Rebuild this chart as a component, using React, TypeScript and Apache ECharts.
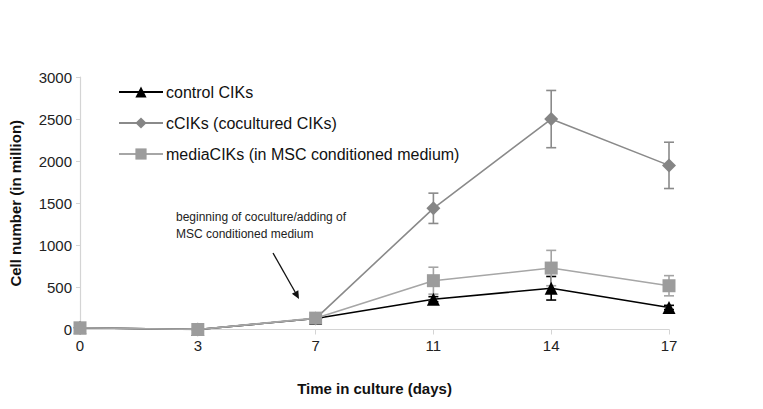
import React, { useEffect, useRef } from 'react';
import * as echarts from 'echarts';

const days = ['0', '3', '7', '11', '14', '17'];
const controlValues = [20, 0, 130, 360, 490, 262];
const controlErrors = [0, 0, 0, 30, 140, 25];
const cocultureValues = [20, 0, 130, 1440, 2500, 1950];
const cocultureErrors = [0, 0, 0, 180, 340, 275];
const mediaValues = [20, 0, 135, 580, 730, 520];
const mediaErrors = [0, 0, 0, 160, 210, 120];
const seriesNames = ['control CIKs', 'cCIKs (cocultured CIKs)', 'mediaCIKs (in MSC conditioned medium)'];
const annotationLines = ['beginning of coculture/adding of', 'MSC conditioned medium'];

const FONT = '"Liberation Sans", Arial, sans-serif';

function errorSeries(values: number[], errors: number[], color: string, z: number) {
  return {
    type: 'custom',
    silent: true,
    z,
    encode: { x: 0, y: [1, 2] },
    data: values
      .map((v, i) => [i, v - errors[i], v + errors[i], errors[i]])
      .filter((d) => d[3] > 0),
    renderItem: (params: any, api: any) => {
      const lo = api.coord([api.value(0), api.value(1)]);
      const hi = api.coord([api.value(0), api.value(2)]);
      const w = 5;
      const style = { stroke: color, lineWidth: 1.6 };
      return {
        type: 'group',
        children: [
          { type: 'line', shape: { x1: lo[0], y1: lo[1], x2: hi[0], y2: hi[1] }, style },
          { type: 'line', shape: { x1: lo[0] - w, y1: lo[1], x2: lo[0] + w, y2: lo[1] }, style },
          { type: 'line', shape: { x1: hi[0] - w, y1: hi[1], x2: hi[0] + w, y2: hi[1] }, style },
        ],
      };
    },
  };
}

export default function App() {
  const ref = useRef<HTMLDivElement>(null);
  useEffect(() => {
    if (!ref.current) return;
    const chart = echarts.init(ref.current, null, { renderer: 'svg' });
    const tip = [299, 299];
    const base = [295.1, 292.0];
    const p = [-3.2, 1.8];
    chart.setOption({
      animation: false,
      backgroundColor: '#ffffff',
      grid: { left: 80, right: 94, top: 77, bottom: 79.5 },
      legend: {
        data: seriesNames,
        orient: 'vertical',
        left: 113,
        top: 79,
        itemWidth: 44,
        itemHeight: 14,
        itemGap: 15,
        textStyle: { fontSize: 16, color: '#111', fontFamily: FONT, padding: [0, 0, 0, -2] },
      },
      xAxis: {
        type: 'category',
        data: days,
        boundaryGap: false,
        name: 'Time in culture (days)',
        nameLocation: 'middle',
        nameGap: 51,
        nameTextStyle: { fontSize: 15, fontWeight: 'bold', color: '#111', fontFamily: FONT },
        axisLine: { lineStyle: { color: '#d4d4d4', width: 1.2 } },
        axisTick: { show: true, alignWithLabel: true, length: 5, lineStyle: { color: '#d4d4d4' } },
        axisLabel: { fontSize: 15, color: '#222', fontFamily: FONT, margin: 8 },
        splitLine: { show: false },
      },
      yAxis: {
        type: 'value',
        min: 0,
        max: 3000,
        interval: 500,
        name: 'Cell number (in million)',
        nameLocation: 'middle',
        nameGap: 57,
        nameTextStyle: { fontSize: 15, fontWeight: 'bold', color: '#111', fontFamily: FONT },
        axisLine: { show: true, lineStyle: { color: '#d4d4d4', width: 1.2 } },
        axisTick: { show: true, length: 4, lineStyle: { color: '#d4d4d4' } },
        axisLabel: { fontSize: 15, color: '#222', fontFamily: FONT, margin: 8, formatter: (v: number) => String(v) },
        splitLine: { show: false },
      },
      series: [
        errorSeries(controlValues, controlErrors, '#000000', 1),
        errorSeries(cocultureValues, cocultureErrors, '#8a8a8a', 1),
        errorSeries(mediaValues, mediaErrors, '#a4a4a4', 1),
        {
          name: seriesNames[0],
          type: 'line',
          data: controlValues,
          symbol: 'triangle',
          symbolSize: 13,
          lineStyle: { color: '#000000', width: 1.6 },
          itemStyle: { color: '#000000' },
          z: 3,
        },
        {
          name: seriesNames[1],
          type: 'line',
          data: cocultureValues,
          symbol: 'diamond',
          symbolSize: 14,
          lineStyle: { color: '#8a8a8a', width: 1.6 },
          itemStyle: { color: '#858585' },
          z: 3,
        },
        {
          name: seriesNames[2],
          type: 'line',
          data: mediaValues,
          symbol: 'rect',
          symbolSize: 13,
          lineStyle: { color: '#a6a6a6', width: 1.6 },
          itemStyle: { color: '#9c9c9c' },
          z: 4,
        },
      ],
      graphic: [
        {
          type: 'text',
          left: 176,
          top: 208,
          style: { text: annotationLines.join('\n'), fontSize: 12, lineHeight: 17, fill: '#222', font: `12px ${FONT}` },
        },
        {
          type: 'line',
          shape: { x1: 273, y1: 253, x2: base[0], y2: base[1] },
          style: { stroke: '#111', lineWidth: 1.3 },
        },
        {
          type: 'polygon',
          shape: { points: [tip, [base[0] + p[0], base[1] + p[1]], [base[0] - p[0], base[1] - p[1]]] },
          style: { fill: '#111' },
        },
      ],
    });
    return () => chart.dispose();
  }, []);
  return <div ref={ref} style={{ position: 'fixed', left: 0, top: 0, width: 763, height: 409 }} />;
}
